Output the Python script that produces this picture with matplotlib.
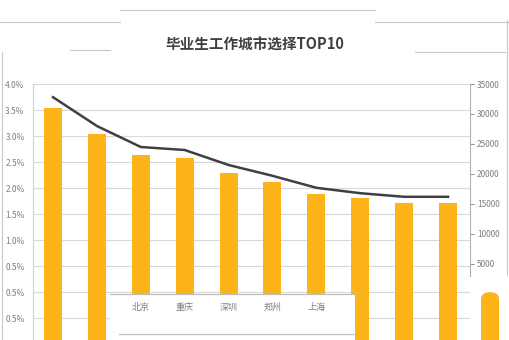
import matplotlib
matplotlib.use('Agg')
import matplotlib.pyplot as plt
import numpy as np
from matplotlib.patches import Rectangle, FancyBboxPatch
from matplotlib.lines import Line2D

plt.rcParams['font.family'] = ['Noto Sans CJK SC', 'DejaVu Sans']

# share of graduates (%) per city, ranks 1..10
share = [3.54, 3.04, 2.63, 2.58, 2.29, 2.12, 1.88, 1.81, 1.71, 1.71]
# salary line (right axis)
salary = [32800, 28000, 24500, 24000, 21500, 19700, 17700, 16800, 16200, 16200]
# only these city labels are readable, under ranks 3..7
cities = ['北京', '重庆', '深圳', '郑州', '上海']
city_pos = [2, 3, 4, 5, 6]

left_ticks = [4.0, 3.5, 3.0, 2.5, 2.0, 1.5, 1.0, 0.5, 0.0, -0.5]
left_labels = ['4.0%', '3.5%', '3.0%', '2.5%', '2.0%', '1.5%', '1.0%', '0.5%', '0.5%', '0.5%']
right_ticks = [5000, 10000, 15000, 20000, 25000, 30000, 35000]

bar_color = '#FDB31A'
grey = '#7f7f7f'

W, H = 510, 340
fig = plt.figure(figsize=(5.1, 3.4), dpi=100)
ax = fig.add_axes([33 / W, 0, (470 - 33) / W, 256 / H])
base = -0.923
ax.set_ylim(base, 4.0)
ax.set_xlim(-0.456, 9.5)

x = np.arange(len(share))
ax.bar(x, np.array(share) - base, bottom=base, width=0.41, color=bar_color, zorder=2)
ax.set_yticks(left_ticks)
ax.set_yticklabels(left_labels)
ax.tick_params(axis='y', length=0, labelsize=6, labelcolor=grey, pad=6)
ax.set_xticks([])
ax.grid(axis='y', color='#d9d9d9', linewidth=0.8, zorder=0)
for s in ['top', 'right', 'bottom']:
    ax.spines[s].set_visible(False)
ax.spines['left'].set_color('#d0d0d0')
ax.spines['left'].set_linewidth(0.8)

ax2 = ax.twinx()
ax2.set_ylim(-7667, 35000)
ax2.plot(x, salary, color='#404040', linewidth=1.8, zorder=3)
ax2.set_yticks(right_ticks)
ax2.tick_params(axis='y', length=3, width=0.6, color=grey, labelsize=6, labelcolor=grey, pad=2)
for s in ['top', 'left', 'bottom']:
    ax2.spines[s].set_visible(False)
ax2.spines['right'].set_color('#b0b0b0')
ax2.spines['right'].set_linewidth(0.8)
ax2.spines['right'].set_bounds(3000, 35000)

# overlapping white panel with the city labels
ax2.add_patch(Rectangle((1.3, -7667), 5.58, 7667 - 10, facecolor='white', edgecolor='none', zorder=4))
ax2.plot([1.3, 6.88], [0, 0], color='#bfbfbf', linewidth=0.9, zorder=5)
ax2.plot([1.5, 6.88], [-6700, -6700], color='#bfbfbf', linewidth=0.9, zorder=5)
for p, c in zip(city_pos, cities):
    ax2.text(p, -2200, c, ha='center', va='center', fontsize=6.5, color=grey, zorder=6)

# stray bar piece on the right edge
fig.patches.append(FancyBboxPatch((481 / W, -0.05), 18 / W, (48 + 17) / H,
                                  boxstyle='round,pad=0,rounding_size=0.02',
                                  transform=fig.transFigure, facecolor=bar_color,
                                  edgecolor='none', figure=fig))

# title and frame fragments
fig.text(255 / W, 1 - 45 / H, '毕业生工作城市选择TOP10', ha='center', va='center',
         fontsize=10.5, fontweight='bold', color='#404040')
for (x0, x1, y) in [(120, 375, 10), (0, 120, 22), (375, 510, 22), (70, 110, 50), (415, 505, 52)]:
    fig.add_artist(Line2D([x0 / W, x1 / W], [1 - y / H, 1 - y / H], color='#c8c8c8', linewidth=0.8))
fig.add_artist(Line2D([2 / W, 2 / W], [0, 1 - 52 / H], color='#c8c8c8', linewidth=0.8))
fig.add_artist(Line2D([507 / W, 507 / W], [1 - 275 / H, 1 - 20 / H], color='#c8c8c8', linewidth=0.8))

fig.savefig('out.png', dpi=100)
